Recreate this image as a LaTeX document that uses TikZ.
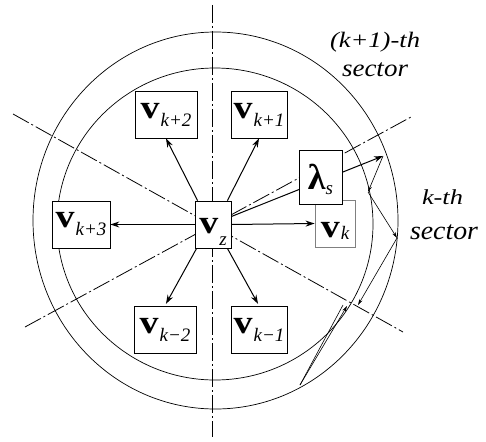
\documentclass[tikz,border=0pt]{standalone}
\usepackage{fontspec}
\setmainfont{Liberation Serif}
\newfontfamily\tnr{Liberation Serif}
\usetikzlibrary{arrows.meta}
\newcommand\vlab[2][8pt]{\scalebox{1.15}[1]{\tnr\fontsize{33}{33}\selectfont\bfseries v}\kern1pt\raisebox{-#1}{\tnr\fontsize{19}{19}\selectfont\itshape #2}}
\newcommand\seclab[3]{\resizebox*{#1}{#2}{\tnr\fontsize{20}{20}\selectfont\itshape #3}}
\begin{document}
\begin{tikzpicture}[x=1pt,y=-1pt,
  box/.style={draw, fill=white, line width=0.8pt, inner sep=0pt, minimum height=47pt},
  dd/.style={line width=0.8pt, dash pattern=on 18pt off 3pt on 2pt off 3pt},
  ring/.style={line width=0.7pt},
  arr/.style={line width=1pt, -{Stealth[length=9pt,width=6pt]}},
  ray/.style={line width=0.6pt, -{Stealth[length=6pt,width=3.5pt]}},
  raw/.style={line width=0.6pt},
  lbl/.style={inner sep=0pt}]
\useasboundingbox (0,0) rectangle (486,441);
% rings
\draw[ring] (215.5,220.5) ellipse [x radius=182.5, y radius=188.5];
\draw[ring] (215,224) ellipse [x radius=158, y radius=156];
% dash-dot sector lines
\draw[dd] (212,5) -- (212,437);
\draw[dd] (13,114) -- (403,332);
\draw[dd] (25,327) -- (411,117);
% ray points
\coordinate (Q1) at (383,156);
\coordinate (Q2) at (368,192);
\coordinate (P3) at (397,238);
\coordinate (P4) at (358,305);
\coordinate (P1) at (300,385);
\coordinate (P2) at (347,306);
\coordinate (P2b) at (343,305);
% boxes
\node[box, minimum width=62pt] (k2) at (166,114.5) {\vlab{k+2}};
\node[box, minimum width=56pt] (k1) at (259,114.5) {\vlab{k+1}};
\node[box, minimum width=58pt] (k3) at (81,224.5) {\vlab{k+3}};
\node[box, minimum width=36pt, text height=19pt, text depth=2pt] (vz) at (213,224.5) {\vlab[12pt]{z}};
\node[box, draw=gray, minimum width=40pt, text height=30pt, text depth=2pt] (vk) at (335,223.5) {\vlab[2pt]{k}};
\node[box, minimum width=62pt] (km2) at (165,329.5) {\vlab{k−2}};
\node[box, minimum width=56pt] (km1) at (259,329.5) {\vlab{k−1}};
% arrows from vz
\draw[arr] ([xshift=3pt]vz.north west) -- (k2.south);
\draw[arr] ([xshift=-4pt]vz.north east) -- (k1.south);
\draw[arr] (vz.west) -- (k3.east);
\draw[arr] (vz.east) -- (vk.west);
\draw[arr, shorten >=2pt] ([xshift=2pt]vz.south west) -- (km2.north);
\draw[arr, shorten >=2pt] ([xshift=-4pt]vz.south east) -- (km1.north);
\draw[arr] ([yshift=8pt]vz.east) -- (Q1);
% lambda box
\node[box, minimum width=43pt, minimum height=54pt, text height=26pt, text depth=2pt] (lam) at (320.5,177)
  {{\tnr\fontsize{36}{36}\selectfont\bfseries λ}\raisebox{-5pt}{\tnr\fontsize{19}{19}\selectfont\itshape s}};
% reflected rays
\draw[ray] (Q1) -- (Q2);
\draw[ray] (Q2) -- (P3);
\draw[ray] (P3) -- (P4);
\draw[ray] (P1) -- (P2);
\draw[raw] (P2b) -- (P1);
% sector labels
\node[lbl] (t1) at (375,42) {\seclab{90pt}{20pt}{(k+1)-th}};
\node[lbl] (t2) at (375,70) {\seclab{66pt}{14pt}{sector}};
\node[lbl] (t3) at (442.5,197.5) {\seclab{41pt}{15pt}{k-th}};
\node[lbl] (t4) at (444,232.5) {\seclab{68pt}{15pt}{sector}};
\end{tikzpicture}
\end{document}
